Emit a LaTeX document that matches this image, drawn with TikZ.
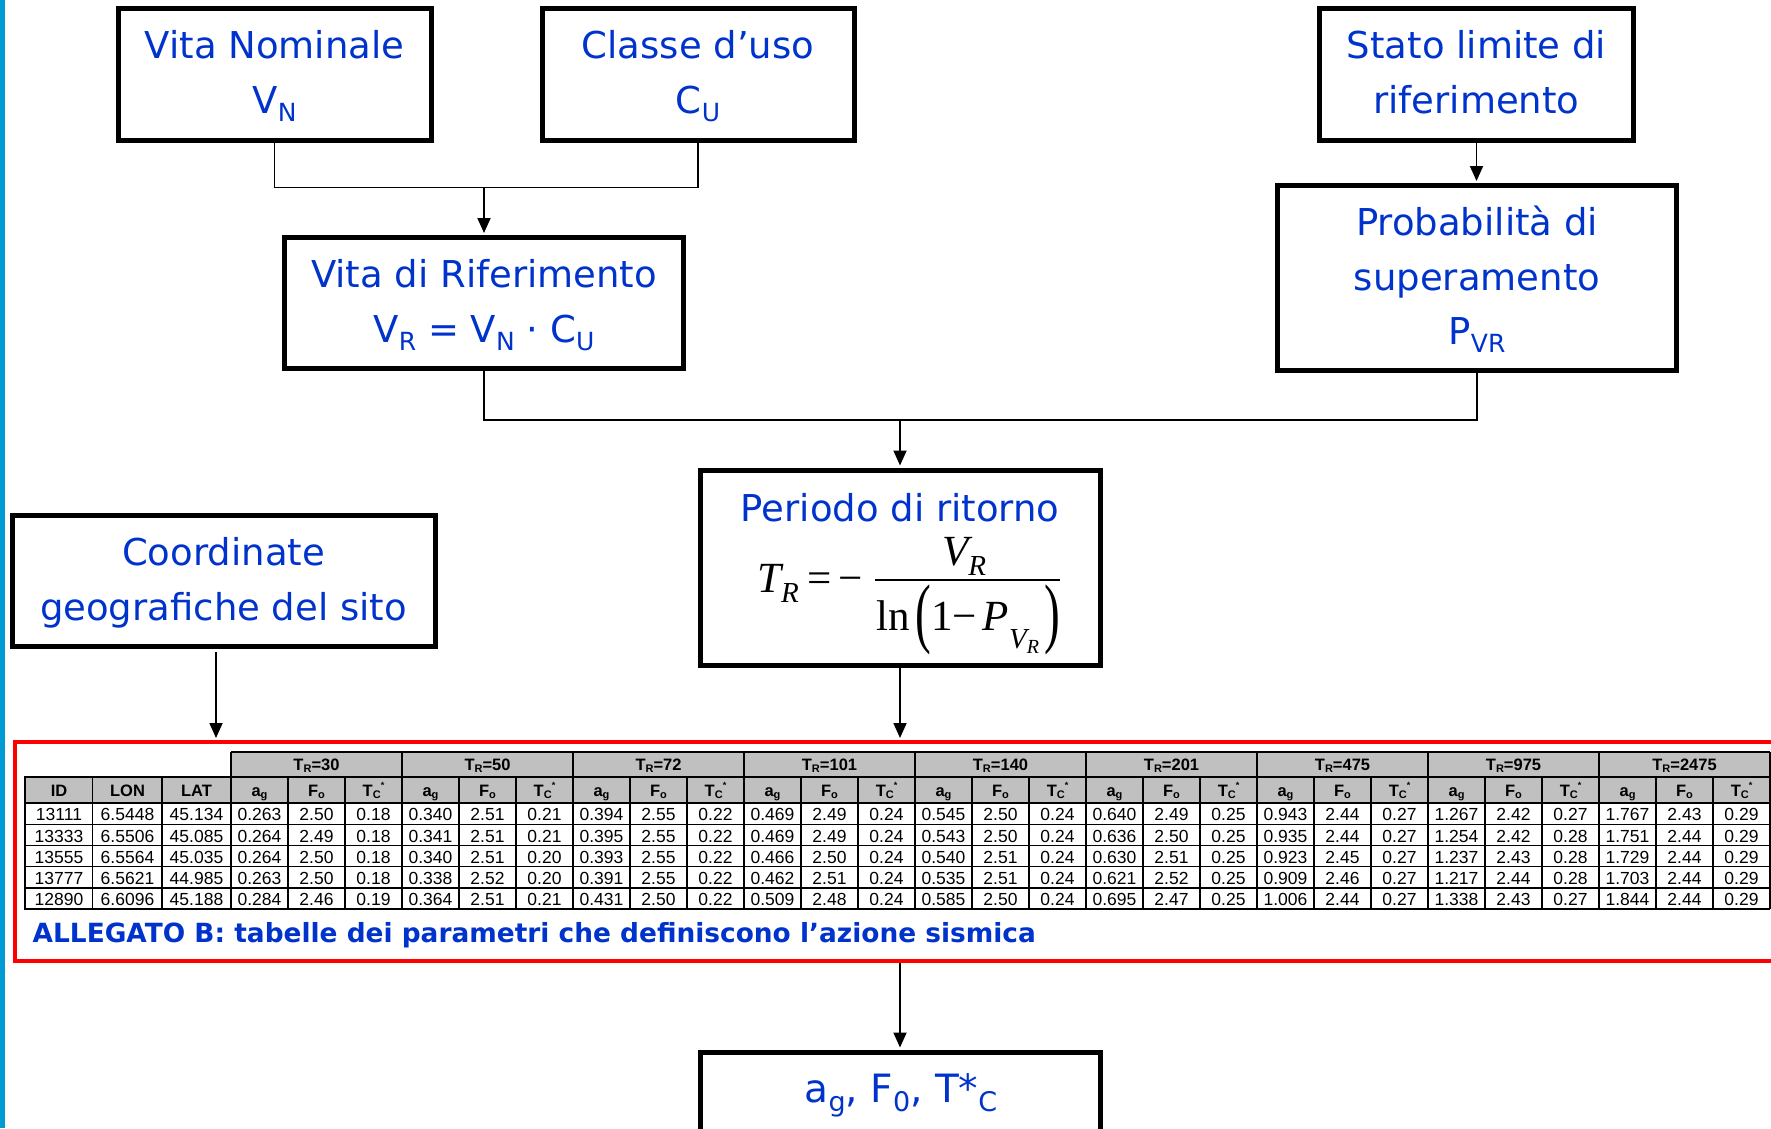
\documentclass[tikz,border=0pt]{standalone}
\usepackage{fontspec}
\usetikzlibrary{arrows.meta}
\newfontfamily\vfont{DejaVu Sans}
\newfontfamily\afont{Liberation Sans}
\newfontfamily\tms{Liberation Serif}
\definecolor{txtblue}{RGB}{0,51,204}
\definecolor{barblue}{RGB}{0,155,210}
\definecolor{hdrgray}{RGB}{192,192,192}
\definecolor{redline}{RGB}{255,0,0}
\newcommand\bsub[1]{\raisebox{-8pt}{\fontsize{25}{25}\selectfont #1}}
\newcommand\osub[1]{\raisebox{-9pt}{\fontsize{27}{27}\selectfont #1}}
\newcommand\tsub[1]{\raisebox{-2.5pt}{\fontsize{11}{11}\selectfont #1}}
\newcommand\tstar{\raisebox{8pt}{\fontsize{9}{9}\selectfont *}}
\newcommand\fsub[1]{\raisebox{-10pt}{\fontsize{29}{29}\selectfont #1}}
\tikzset{
  box/.style={draw=black, line width=5pt, rectangle, inner sep=0pt},
  redbox/.style={draw=redline, line width=4pt, rectangle, inner sep=0pt},
  lbl/.style={text=txtblue, font=\vfont\fontsize{37}{44}\selectfont, anchor=base, inner sep=0pt},
  allegato/.style={text=txtblue, font=\vfont\bfseries\fontsize{26.4}{30}\selectfont, anchor=base west, inner sep=0pt},
  fml/.style={text=black, font=\tms\fontsize{43}{50}\selectfont, inner sep=0pt},
  conn/.style={draw=black, line width=1.8pt},
  arr/.style={conn, -{Triangle[length=15pt,width=13pt]}, shorten >=2pt},
  hdr/.style={font=\afont\bfseries\fontsize{16.5}{18}\selectfont, anchor=base, inner sep=0pt},
  cell/.style={font=\afont\fontsize{17.5}{20}\selectfont, anchor=base, inner sep=0pt},
  thinl/.style={draw=black, line width=1.1pt},
  thickl/.style={draw=black, line width=2.4pt},
}
\begin{document}
\begin{tikzpicture}[x=1pt,y=-1pt]
\useasboundingbox (0,0) rectangle (1771,1128);
\clip (0,0) rectangle (1771,1128);
\fill[white] (0,0) rectangle (1771,1128);
\fill[barblue] (0,0) rectangle (5,1128);

% ---------- boxes ----------
\node[box, minimum width=313pt, minimum height=131.5pt] (vn) at (274.5,74.25) {};
\node[box, minimum width=312pt, minimum height=131.5pt] (cu) at (698,74.25) {};
\node[box, minimum width=314pt, minimum height=131.5pt] (sl) at (1476.5,74.25) {};
\node[box, minimum width=399pt, minimum height=130.5pt] (vr) at (484,302.75) {};
\node[box, minimum width=399pt, minimum height=185pt] (prob) at (1477,278) {};
\node[box, minimum width=400.5pt, minimum height=195.5pt] (per) at (900.25,567.75) {};
\node[box, minimum width=423pt, minimum height=130.5pt] (co) at (223.5,580.75) {};
\node[box, minimum width=400.5pt, minimum height=200pt] (out) at (900.25,1152) {};
\node[redbox, minimum width=1785.5pt, minimum height=219pt] (red) at (907.25,851.5) {};

% ---------- box texts ----------
\node[lbl] (vnA) at (274.5,58) {Vita Nominale};
\node[lbl] (vnB) at (274.5,113) {V\bsub{N}};
\node[lbl] (cuA) at (698,58) {Classe d’uso};
\node[lbl] (cuB) at (698,113) {C\bsub{U}};
\node[lbl] (slA) at (1476.5,58) {Stato limite di};
\node[lbl] (slB) at (1476.5,113) {riferimento};
\node[lbl] (vrA) at (484,287) {Vita di Riferimento};
\node[lbl] (vrB) at (484,342) {V\bsub{R} = V\bsub{N} · C\bsub{U}};
\node[lbl] (prA) at (1477,235) {Probabilità di};
\node[lbl] (prB) at (1477,290) {superamento};
\node[lbl] (prC) at (1477,344) {P\bsub{VR}};
\node[lbl] (peA) at (900.25,521) {Periodo di ritorno};
\node[lbl] (coA) at (223.5,565) {Coordinate};
\node[lbl] (coB) at (223.5,620) {geografiche del sito};
\node[lbl, font=\vfont\fontsize{39}{44}\selectfont] (outA) at (901,1102) {a\osub{g}, F\osub{0}, T*\osub{C}};
\node[allegato] (alleg) at (32.5,942) {ALLEGATO B: tabelle dei parametri che definiscono l’azione sismica};

% ---------- formula ----------
\node[fml, anchor=base west] (fT) at (757,592) {\itshape T\fsub{R}};
\node[fml, anchor=base] (fEq) at (820,592) {=};
\node[fml, anchor=base] (fMi) at (851,592) {−};
\coordinate (fbL) at (875,580);
\coordinate (fbR) at (1060,580);
\draw[line width=2pt] (fbL) -- (fbR);
\node[fml, anchor=base] (fV) at (964,565) {\itshape V\fsub{R}};
\node[fml, anchor=base west] (fLn) at (876,630) {ln};
\node[fml, anchor=center] (fPl) at (923,619.5) {\scalebox{1.1}[1.8]{(}};
\node[fml, anchor=base] (f1) at (942,630) {1};
\node[fml, anchor=base] (fM2) at (965,630) {−};
\node[fml, anchor=base] (fP) at (996,630) {\itshape P};
\node[fml, anchor=base west, font=\tms\itshape\fontsize{29}{29}\selectfont] (fPs) at (1009,648)
  {V\raisebox{-5pt}{\fontsize{20}{20}\selectfont R}};
\node[fml, anchor=center] (fPr) at (1052,619.5) {\scalebox{1.1}[1.8]{)}};

% ---------- connectors ----------
\coordinate (j1) at (484,187.5);
\coordinate (j2) at (900,420);
\coordinate (coS) at (216,652);
\draw[conn] (vn.south) |- (j1);
\draw[conn] (cu.south) |- (j1);
\draw[arr] (j1) -- (vr.north);
\draw[arr] (sl.south) -- (sl.south |- prob.north);
\draw[conn] (vr.south) |- (j2);
\draw[conn] (prob.south) |- (j2);
\draw[arr] (j2) -- (j2 |- per.north);
\draw[arr] (coS) -- (coS |- red.north);
\draw[arr] (j2 |- per.south) -- (j2 |- red.north);
\draw[arr] (j2 |- red.south) -- (j2 |- out.north);

% ---------- table ----------
\fill[hdrgray] (231,752) rectangle (1770,777);
\fill[hdrgray] (25,777) rectangle (1770,803);
\foreach \i in {1,...,4}
  \draw[thinl] (25,{803+21.25*\i}) -- (1770,{803+21.25*\i});
\foreach \xx in {92.5,162}
  \draw[thinl] (\xx,777) -- (\xx,909.25);
\foreach \k in {1,...,26}{
  \pgfmathtruncatemacro\m{mod(\k,3)}
  \ifnum\m=0\relax\else
    \draw[thinl] ({231+57*\k},777) -- ({231+57*\k},909.25);
  \fi
}
\draw[thickl] (25,777) -- (1770,777);
\draw[thickl] (25,803) -- (1770,803);
\draw[thickl] (25,909.25) -- (1770,909.25);
\draw[thickl] (231,752) -- (1770,752);
\draw[thickl] (25,775.8) -- (25,910.45);
\foreach \g in {0,...,9}
  \draw[thickl] ({231+171*\g},752) -- ({231+171*\g},909.25);
\foreach \t [count=\g from 0] in {30,50,72,101,140,201,475,975,2475}{
  \node[hdr] (h-\g) at ({316.5+171*\g},770) {T\tsub{R}=\t};
  \node[hdr] (sa-\g) at ({259.5+171*\g},796) {a\tsub{g}};
  \node[hdr] (sf-\g) at ({316.5+171*\g},796) {F\tsub{o}};
  \node[hdr] (st-\g) at ({373.5+171*\g},796) {T\tsub{C}\tstar};
}
\node[hdr] (hid) at (59,796) {ID};
\node[hdr] (hlon) at (127.5,796) {LON};
\node[hdr] (hlat) at (196.5,796) {LAT};
\foreach \row [count=\r] in {
 {13111,6.5448,45.134,0.263,2.50,0.18,0.340,2.51,0.21,0.394,2.55,0.22,0.469,2.49,0.24,0.545,2.50,0.24,0.640,2.49,0.25,0.943,2.44,0.27,1.267,2.42,0.27,1.767,2.43,0.29},
 {13333,6.5506,45.085,0.264,2.49,0.18,0.341,2.51,0.21,0.395,2.55,0.22,0.469,2.49,0.24,0.543,2.50,0.24,0.636,2.50,0.25,0.935,2.44,0.27,1.254,2.42,0.28,1.751,2.44,0.29},
 {13555,6.5564,45.035,0.264,2.50,0.18,0.340,2.51,0.20,0.393,2.55,0.22,0.466,2.50,0.24,0.540,2.51,0.24,0.630,2.51,0.25,0.923,2.45,0.27,1.237,2.43,0.28,1.729,2.44,0.29},
 {13777,6.5621,44.985,0.263,2.50,0.18,0.338,2.52,0.20,0.391,2.55,0.22,0.462,2.51,0.24,0.535,2.51,0.24,0.621,2.52,0.25,0.909,2.46,0.27,1.217,2.44,0.28,1.703,2.44,0.29},
 {12890,6.6096,45.188,0.284,2.46,0.19,0.364,2.51,0.21,0.431,2.50,0.22,0.509,2.48,0.24,0.585,2.50,0.24,0.695,2.47,0.25,1.006,2.44,0.27,1.338,2.43,0.27,1.844,2.44,0.29}}{
  \foreach \v [count=\c] in \row {
    \pgfmathsetmacro\cx{\c==1 ? 59 : (\c==2 ? 127.5 : (\c==3 ? 196.5 : 259.5+57*(\c-4)))}
    \node[cell] (d-\r-\c) at (\cx,{803+21.25*\r-3.5}) {\v};
  }
}
\end{tikzpicture}
\end{document}
